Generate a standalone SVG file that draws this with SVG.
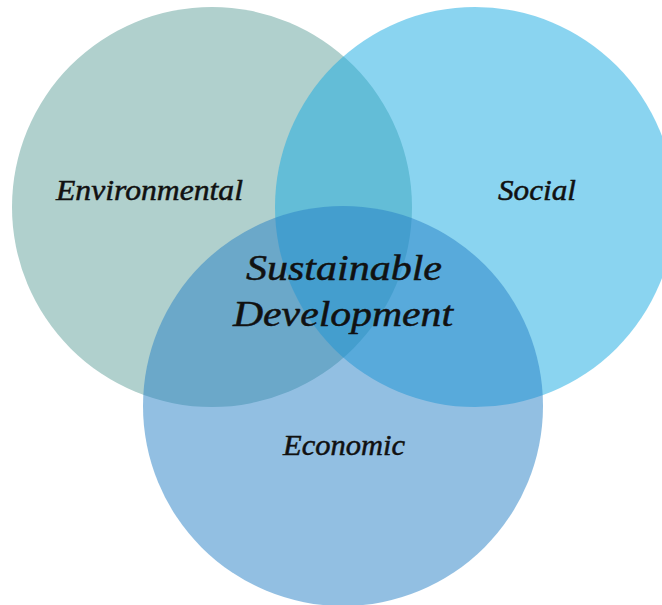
<svg xmlns="http://www.w3.org/2000/svg" width="662" height="605" viewBox="0 0 662 605">
<style>
.lbl{font-family:"Liberation Serif","Times New Roman",serif;font-style:italic;fill:#111;stroke:#111;stroke-width:0.5;}
</style>
<rect width="662" height="605" fill="#ffffff"/>
<g id="environmental">
<circle cx="212" cy="207" r="200" fill="#b0d0cd"/>
</g>
<g id="social">
<circle cx="475" cy="207" r="200" fill="#16a9e1" fill-opacity="0.5"/>
</g>
<g id="economic">
<circle cx="343" cy="406" r="200" fill="#257fc6" fill-opacity="0.5"/>
</g>
<g id="labels">
<text class="lbl" x="56" y="200" font-size="30" textLength="187" lengthAdjust="spacingAndGlyphs">Environmental</text>
<text class="lbl" x="498" y="200" font-size="30" textLength="78" lengthAdjust="spacingAndGlyphs">Social</text>
<text class="lbl" x="246" y="280" font-size="36" textLength="196" lengthAdjust="spacingAndGlyphs">Sustainable</text>
<text class="lbl" x="233" y="326" font-size="36" textLength="220" lengthAdjust="spacingAndGlyphs">Development</text>
<text class="lbl" x="283" y="455" font-size="30" textLength="122" lengthAdjust="spacingAndGlyphs">Economic</text>
</g>
</svg>
